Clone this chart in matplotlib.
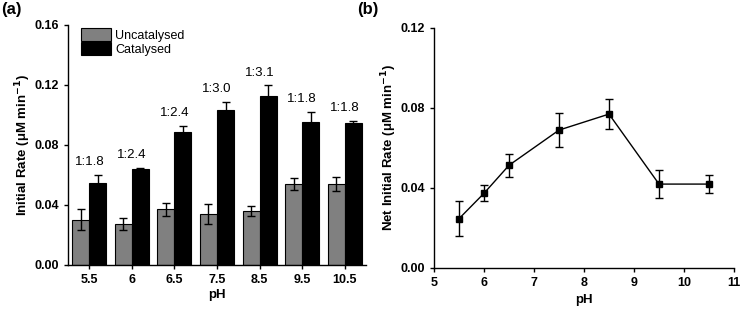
import matplotlib
matplotlib.use("Agg")
import matplotlib.pyplot as plt
import numpy as np

plt.rcParams['font.family'] = ['Liberation Sans', 'DejaVu Sans']

# panel (a): initial rates by pH
ph_labels = ["5.5", "6", "6.5", "7.5", "8.5", "9.5", "10.5"]
uncat = [0.030, 0.027, 0.037, 0.034, 0.036, 0.054, 0.054]
uncat_err = [0.007, 0.004, 0.0045, 0.0067, 0.0034, 0.004, 0.0045]
cat = [0.0549, 0.0638, 0.0884, 0.1033, 0.1127, 0.0956, 0.0949]
cat_err = [0.005, 0.001, 0.0045, 0.0056, 0.007, 0.0064, 0.0013]
ratios = ["1:1.8", "1:2.4", "1:2.4", "1:3.0", "1:3.1", "1:1.8", "1:1.8"]

# panel (b): net initial rate
ph_values = [5.5, 6, 6.5, 7.5, 8.5, 9.5, 10.5]
net_rate = [0.0245, 0.0372, 0.0512, 0.0688, 0.0768, 0.0418, 0.0418]
net_err = [0.0087, 0.004, 0.0057, 0.0083, 0.0077, 0.0072, 0.0044]

fig = plt.figure(figsize=(7.4, 3.09), dpi=100)
ax1 = fig.add_axes([0.0919, 0.1424, 0.4027, 0.7767])
ax2 = fig.add_axes([0.5865, 0.1337, 0.4054, 0.7767])

x = np.arange(len(ph_labels))
w = 0.4
ax1.bar(x - w / 2, uncat, w, yerr=uncat_err, color='#808080', edgecolor='black',
        linewidth=0.8, capsize=3, error_kw={'elinewidth': 1, 'capthick': 1},
        label='Uncatalysed')
ax1.bar(x + w / 2, cat, w, yerr=cat_err, color='black', edgecolor='black',
        linewidth=0.8, capsize=3, error_kw={'elinewidth': 1, 'capthick': 1,
                                            'ecolor': 'black'},
        label='Catalysed')
for i in range(len(x)):
    ax1.text(x[i], cat[i] + cat_err[i] + 0.0045, ratios[i], ha='center',
             va='bottom', fontsize=9.5)

ax1.set_xlim(-0.5, 6.5)
ax1.set_ylim(0, 0.16)
ax1.set_xticks(x)
ax1.set_xticklabels(ph_labels)
ax1.set_yticks([0, 0.04, 0.08, 0.12, 0.16])
ax1.set_yticklabels(["0.00", "0.04", "0.08", "0.12", "0.16"])
ax1.set_xlabel("pH", fontweight='bold', fontsize=9.5, labelpad=2)
ax1.set_ylabel("Initial Rate (\u03bcM min$^{\\mathbf{-1}}$)", fontweight='bold',
               fontsize=9.5, labelpad=1)
leg = ax1.legend(loc='upper left', bbox_to_anchor=(0.02, 1.02), frameon=False,
                 fontsize=9, handlelength=2.4, handleheight=1.25,
                 handletextpad=0.3, labelspacing=0.05, borderaxespad=0.2)

ax2.errorbar(ph_values, net_rate, yerr=net_err, color='black', marker='s',
             markersize=5, linewidth=1, elinewidth=1, capsize=3, capthick=1)
ax2.set_xlim(5, 11)
ax2.set_ylim(0, 0.12)
ax2.set_xticks(range(5, 12))
ax2.set_yticks([0, 0.04, 0.08, 0.12])
ax2.set_yticklabels(["0.00", "0.04", "0.08", "0.12"])
ax2.set_xlabel("pH", fontweight='bold', fontsize=9.5, labelpad=4)
ax2.set_ylabel("Net Initial Rate (\u03bcM min$^{\\mathbf{-1}}$)",
               fontweight='bold', fontsize=9.5, labelpad=1)

for ax in (ax1, ax2):
    ax.spines['top'].set_visible(False)
    ax.spines['right'].set_visible(False)
    for s in ('left', 'bottom'):
        ax.spines[s].set_linewidth(1)
    ax.tick_params(direction='out', length=3, width=1, labelsize=9)
    for lab in ax.get_xticklabels() + ax.get_yticklabels():
        lab.set_fontweight('bold')

fig.text(0.002, 0.995, "(a)", fontsize=12, fontweight='bold', va='top', ha='left')
fig.text(0.483, 0.995, "(b)", fontsize=12, fontweight='bold', va='top', ha='left')

fig.savefig("out.png", dpi=100)
